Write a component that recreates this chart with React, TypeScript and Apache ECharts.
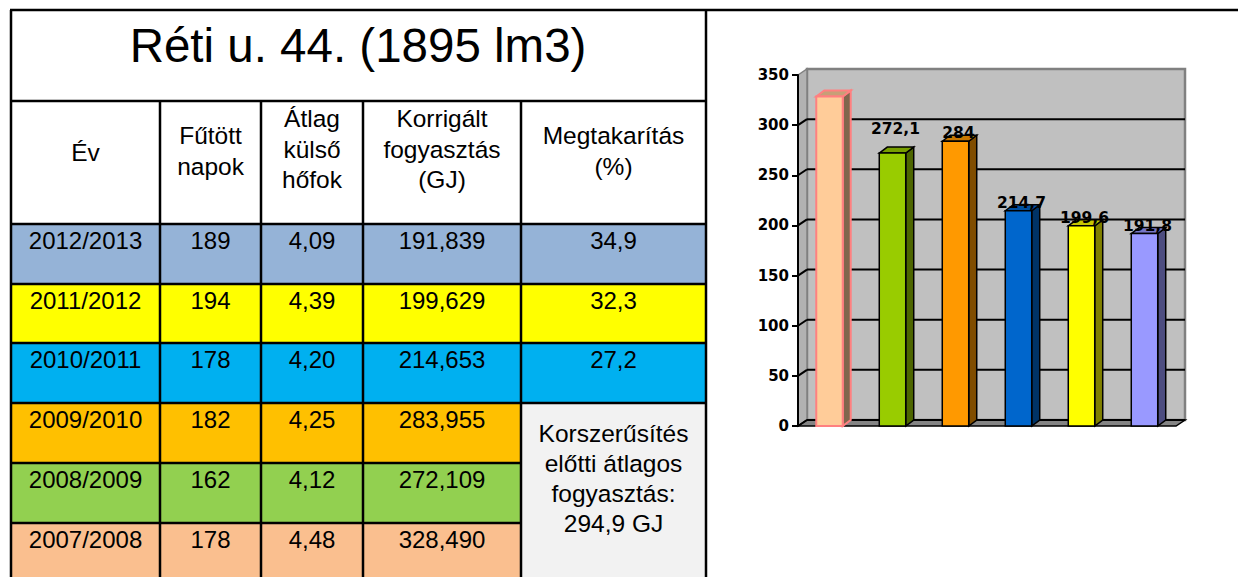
import React, { useEffect, useRef } from "react";
import * as echarts from "echarts";

// ---------- data ----------
const titleText = "Réti u. 44. (1895 lm3)";
const headerLines = [
  ["Év"],
  ["Fűtött", "napok"],
  ["Átlag", "külső", "hőfok"],
  ["Korrigált", "fogyasztás", "(GJ)"],
  ["Megtakarítás", "(%)"],
];
const years = ["2012/2013", "2011/2012", "2010/2011", "2009/2010", "2008/2009", "2007/2008"];
const heatedDays = ["189", "194", "178", "182", "162", "178"];
const avgOutsideTemp = ["4,09", "4,39", "4,20", "4,25", "4,12", "4,48"];
const correctedConsumption = ["191,839", "199,629", "214,653", "283,955", "272,109", "328,490"];
const savingsPct = ["34,9", "32,3", "27,2"];
const noteLines = ["Korszerűsítés", "előtti átlagos", "fogyasztás:", "294,9 GJ"];
const rowColors = ["#95b3d7", "#ffff00", "#00b0f0", "#ffc000", "#92d050", "#fabf8f"];

const chartCategories = ["2007/2008", "2008/2009", "2009/2010", "2010/2011", "2011/2012", "2012/2013"];
const chartValues = [328.49, 272.109, 283.955, 214.653, 199.629, 191.839];
const barColors = ["#ffcc99", "#99cc00", "#ff9900", "#0066cc", "#ffff00", "#9999ff"];
const gridTicks = [0, 50, 100, 150, 200, 250, 300];

// ---------- layout ----------
const colX = [11, 160, 261, 363, 521, 706];
const rowTops = [224, 284, 343, 403, 463, 523];
const TABLE_FONT = "Liberation Sans, Arial, sans-serif";
const CHART_FONT = "DejaVu Sans, Verdana, sans-serif";
const DX = 9;
const DY = -6;
const BDX = 8;
const BDY = -6;

function shade(hex: string, f: number) {
  const n = parseInt(hex.slice(1), 16);
  const r = Math.round(((n >> 16) & 255) * f);
  const g = Math.round(((n >> 8) & 255) * f);
  const b = Math.round((n & 255) * f);
  return "rgb(" + r + "," + g + "," + b + ")";
}

function fmtLabel(v: number) {
  const r = Math.round(v * 10) / 10;
  return String(r).replace(".", ",");
}

function buildTable() {
  const els: any[] = [];
  const txt = (x: number, y: number, text: string, size: number) => ({
    type: "text",
    x,
    y,
    silent: true,
    style: {
      text,
      fill: "#000",
      fontSize: size,
      fontFamily: TABLE_FONT,
      align: "center",
      verticalAlign: "middle",
    },
  });
  // cell fills
  for (let i = 0; i < 6; i++) {
    const top = rowTops[i];
    const bottom = i < 5 ? rowTops[i + 1] : 580;
    const lastCol = i < 3 ? 5 : 4;
    els.push({
      type: "rect",
      silent: true,
      shape: { x: colX[0], y: top, width: colX[lastCol] - colX[0], height: bottom - top },
      style: { fill: rowColors[i] },
    });
  }
  els.push({
    type: "rect",
    silent: true,
    shape: { x: colX[4], y: rowTops[3], width: colX[5] - colX[4], height: 580 - rowTops[3] },
    style: { fill: "#f2f2f2" },
  });
  // title
  els.push(txt(358, 45, titleText, 47.5));
  // header
  const hc = 149;
  const lh = 30.5;
  headerLines.forEach((lines, c) => {
    const cx = (colX[c] + colX[c + 1]) / 2;
    const n = lines.length;
    lines.forEach((l, k) => {
      els.push(txt(cx, hc + (k - (n - 1) / 2) * lh + (n === 1 ? 3 : n === 2 ? 2 : 0), l, 24.5));
    });
  });
  // data
  const cols = [years, heatedDays, avgOutsideTemp, correctedConsumption];
  for (let i = 0; i < 6; i++) {
    const y = rowTops[i] + 16;
    cols.forEach((arr, c) => {
      els.push(txt((colX[c] + colX[c + 1]) / 2, y, arr[i], 24));
    });
    if (i < savingsPct.length) {
      els.push(txt((colX[4] + colX[5]) / 2, y, savingsPct[i], 24));
    }
  }
  noteLines.forEach((l, k) => {
    els.push(txt((colX[4] + colX[5]) / 2, 433 + k * 30, l, 24.5));
  });
  // lines
  const line = (x1: number, y1: number, x2: number, y2: number) => ({
    type: "line",
    silent: true,
    shape: { x1, y1, x2, y2 },
    style: { stroke: "#000", lineWidth: 2.5 },
  });
  els.push(line(10, 10, 1238, 10));
  els.push(line(colX[0], 10, colX[0], 577));
  els.push(line(colX[5], 10, colX[5], 577));
  els.push(line(10, 101, colX[5], 101));
  [224, 284, 343, 403].forEach((y) => els.push(line(10, y, colX[5], y)));
  [463, 523].forEach((y) => els.push(line(10, y, colX[4], y)));
  for (let c = 1; c <= 4; c++) els.push(line(colX[c], 101, colX[c], 577));
  return els;
}

export default function App() {
  const ref = useRef<HTMLDivElement>(null);
  useEffect(() => {
    document.body.style.margin = "0";
    if (!ref.current) return;
    const chart = echarts.init(ref.current, null, { renderer: "svg" });
    const option: any = {
      animation: false,
      backgroundColor: "#fff",
      graphic: buildTable(),
      grid: { left: 798, top: 75, width: 378, height: 351 },
      xAxis: {
        type: "category",
        data: chartCategories,
        axisLine: { show: false },
        axisTick: { show: false },
        axisLabel: { show: false },
        splitLine: { show: false },
      },
      yAxis: {
        type: "value",
        min: 0,
        max: 350,
        interval: 50,
        z: 10,
        axisLine: { show: true, lineStyle: { color: "#000", width: 2 } },
        axisTick: { show: true, length: 6, lineStyle: { color: "#000", width: 2 } },
        axisLabel: {
          color: "#000",
          fontWeight: "bold",
          fontSize: 15,
          fontFamily: CHART_FONT,
          margin: 9,
        },
        splitLine: { show: false },
      },
      series: [
        {
          type: "custom",
          z: 1,
          silent: true,
          clip: false,
          data: [[0, 0]],
          renderItem: (params: any, api: any) => {
            const cs = params.coordSys;
            const bottom = cs.y + cs.height;
            return {
              type: "group",
              children: [
                {
                  type: "rect",
                  shape: { x: cs.x + DX, y: cs.y + DY, width: cs.width, height: cs.height },
                  style: { fill: "#c0c0c0", stroke: "#808080", lineWidth: 2.5 },
                },
                {
                  type: "polygon",
                  shape: {
                    points: [
                      [cs.x, cs.y],
                      [cs.x + DX, cs.y + DY],
                      [cs.x + DX, bottom + DY],
                      [cs.x, bottom],
                    ],
                  },
                  style: { fill: "#b2b2b2", stroke: "#808080", lineWidth: 1.5 },
                },
                {
                  type: "polygon",
                  shape: {
                    points: [
                      [cs.x, bottom],
                      [cs.x + DX, bottom + DY],
                      [cs.x + cs.width + DX, bottom + DY],
                      [cs.x + cs.width, bottom],
                    ],
                  },
                  style: { fill: "#848484", stroke: "#000", lineWidth: 1.5 },
                },
              ],
            };
          },
        },
        {
          type: "custom",
          z: 2,
          silent: true,
          clip: false,
          data: gridTicks.map((v) => [0, v]),
          renderItem: (params: any, api: any) => {
            const cs = params.coordSys;
            const y = api.coord([0, api.value(1)])[1];
            return {
              type: "group",
              children: [
                {
                  type: "line",
                  shape: { x1: cs.x + DX, y1: y + DY, x2: cs.x + cs.width + DX, y2: y + DY },
                  style: { stroke: "#000", lineWidth: 2 },
                },
                {
                  type: "line",
                  shape: { x1: cs.x, y1: y, x2: cs.x + DX, y2: y + DY },
                  style: { stroke: "#000", lineWidth: 2 },
                },
              ],
            };
          },
        },
        {
          type: "custom",
          z: 3,
          silent: true,
          clip: false,
          data: chartValues.map((v, i) => [i, v]),
          renderItem: (params: any, api: any) => {
            const i = params.dataIndex;
            const idx = api.value(0);
            const v = api.value(1);
            const top = api.coord([idx, v]);
            const base = api.coord([idx, 0]);
            const band = api.size([1, 0])[0];
            const w = band * 0.42;
            const x = top[0] - w / 2;
            const ty = top[1];
            const by = base[1];
            const col = barColors[i];
            const stroke = i === 0 ? "#ff8080" : "#000";
            const lw = i === 0 ? 2 : 1.5;
            const children: any[] = [
              {
                type: "polygon",
                shape: {
                  points: [
                    [x + w, ty],
                    [x + w + BDX, ty + BDY],
                    [x + w + BDX, by + BDY],
                    [x + w, by],
                  ],
                },
                style: { fill: shade(col, 0.5), stroke, lineWidth: lw },
              },
              {
                type: "polygon",
                shape: {
                  points: [
                    [x, ty],
                    [x + BDX, ty + BDY],
                    [x + w + BDX, ty + BDY],
                    [x + w, ty],
                  ],
                },
                style: { fill: shade(col, 0.78), stroke, lineWidth: lw },
              },
              {
                type: "rect",
                shape: { x, y: ty, width: w, height: by - ty },
                style: { fill: col, stroke, lineWidth: lw },
              },
            ];
            if (i > 0) {
              children.push({
                type: "text",
                x: top[0] + 3,
                y: ty - (i === 1 ? 24 : 8),
                z2: 10,
                style: {
                  text: fmtLabel(v),
                  fill: "#000",
                  fontSize: 15.5,
                  fontWeight: "bold",
                  fontFamily: CHART_FONT,
                  align: "center",
                  verticalAlign: "middle",
                },
              });
            }
            return { type: "group", children };
          },
        },
      ],
    };
    chart.setOption(option);
    return () => chart.dispose();
  }, []);
  return <div ref={ref} style={{ width: 1238, height: 577 }} />;
}
